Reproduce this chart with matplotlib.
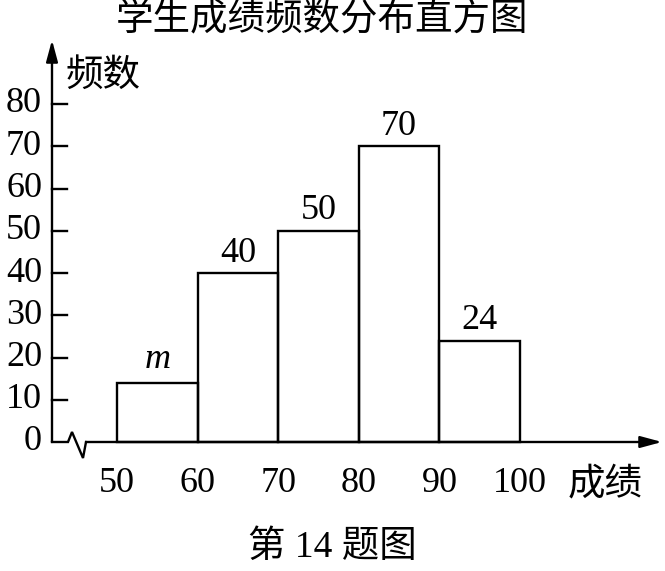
import matplotlib
matplotlib.use("Agg")
import matplotlib.pyplot as plt

# ---- data ----
bin_edges = [50, 60, 70, 80, 90]
bin_width = 10
freqs = [14, 40, 50, 70, 24]
bar_labels = ["m", "40", "50", "70", "24"]
x_ticks = [50, 60, 70, 80, 90, 100]
y_ticks = [0, 10, 20, 30, 40, 50, 60, 70, 80]
title = "学生成绩频数分布直方图"
x_name = "成绩"
y_name = "频数"
caption = "第 14 题图"

serif = ["Liberation Serif", "DejaVu Serif"]
cjk = ["Noto Sans CJK SC", "DejaVu Sans"]
mixed = ["Liberation Serif", "Noto Sans CJK SC"]

W, H = 665, 571
fig = plt.figure(figsize=(W / 100, H / 100), dpi=100)
ax = fig.add_axes([0, 0, 1, 1])
ax.axis("off")

px_x = 8.06   # pixels per x unit
px_y = 4.225  # pixels per y unit
x0 = 50 - 117 / px_x
x1 = x0 + W / px_x
y1 = 442 / px_y
y0 = y1 - H / px_y
ax.set_xlim(x0, x1)
ax.set_ylim(y0, y1)

lw = 1.7
fs = 26
cfs = 27
axis_x = x0 + 52 / px_x

# bars
ax.bar(bin_edges, freqs, width=bin_width, align="edge", fill=False,
       edgecolor="black", linewidth=lw, zorder=3)

# bar labels
for e, f, lab in zip(bin_edges, freqs, bar_labels):
    if lab == "m":
        ax.text(e + bin_width / 2, f + 1.6, lab, ha="center", va="bottom",
                fontsize=fs, family=serif, style="italic")
    else:
        ax.text(e + bin_width / 2, f + 0.8, lab, ha="center", va="bottom",
                fontsize=fs, family=serif)

# y axis with arrow
y_top = (442 - 40) / px_y
ax.annotate("", xy=(axis_x, y_top), xytext=(axis_x, 0),
            arrowprops=dict(arrowstyle="-|>,head_length=1.3,head_width=0.35",
                            color="black", lw=lw, shrinkA=0, shrinkB=0))

# x axis with break and arrow
zx = [axis_x, x0 + 68 / px_x, x0 + 72 / px_x, x0 + 83 / px_x, x0 + 86 / px_x]
zy = [0, 0, (442 - 432) / px_y, (442 - 458) / px_y, 0]
ax.plot(zx, zy, color="black", lw=lw, solid_joinstyle="miter")
x_end = x0 + 662 / px_x
ax.annotate("", xy=(x_end, 0), xytext=(zx[-1], 0),
            arrowprops=dict(arrowstyle="-|>,head_length=1.3,head_width=0.35",
                            color="black", lw=lw, shrinkA=0, shrinkB=0))

# y ticks (inward to the right) and labels
tick_len = 15 / px_x
for t in y_ticks:
    if t > 0:
        ax.plot([axis_x, axis_x + tick_len], [t, t], color="black", lw=lw)
    ax.text(axis_x - 10 / px_x, t, str(t), ha="right", va="center",
            fontsize=fs, family=serif)

# x tick labels
for t in x_ticks:
    ax.text(t, -(484 - 442) / px_y, str(t), ha="center", va="center",
            fontsize=fs, family=serif)

ax.text(x0 + 568 / px_x, -(484 - 442) / px_y, x_name, ha="left", va="center",
        fontsize=cfs, family=cjk)
ax.text(x0 + 66 / px_x, (442 - 75) / px_y, y_name, ha="left", va="center",
        fontsize=cfs, family=cjk)

fig.text(322 / W, 1 - 19 / H, title, ha="center", va="center",
         fontsize=cfs, family=cjk)
fig.text(332 / W, 1 - 548 / H, caption, ha="center", va="center",
         fontsize=cfs, family=mixed)

fig.savefig("out.png", dpi=100)
